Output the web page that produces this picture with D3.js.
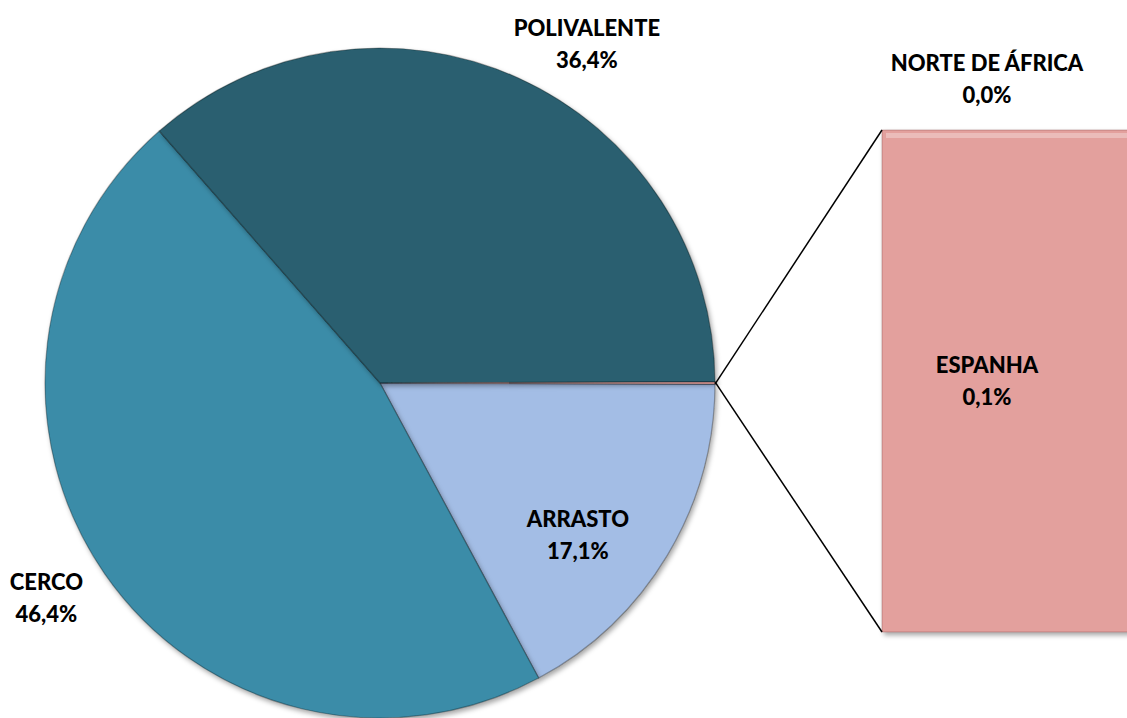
<!DOCTYPE html>
<html>
<head>
<meta charset="utf-8">
<script src="https://cdn.jsdelivr.net/npm/d3@7"></script>
<style>
  body { margin: 0; background: #fff; overflow: hidden; }
  text { font-family: Lato, "Open Sans", sans-serif; font-weight: 900; font-size: 22px; fill: #000; }
</style>
</head>
<body>
<div class="chart"></div>
<script>
// pie slices (clockwise from 3 o'clock), last one is the "other" slice split into the bar
var pieNames = ["ARRASTO", "CERCO", "POLIVALENTE", "OUTROS"];
var pieValues = [17.1, 46.4, 36.4, 0.1];
var pieLabels = ["17,1%", "46,4%", "36,4%", ""];
var pieColors = ["#a3bde5", "#3a8ca8", "#295f6f", "#e3a09d"];

// bar of the "other" slice, bottom to top
var barNames = ["ESPANHA", "NORTE DE ÁFRICA"];
var barValues = [0.1, 0.0];
var barLabels = ["0,1%", "0,0%"];

var svgWidth = 1127, svgHeight = 718;

var svg = d3.select(".chart")
  .append("svg")
    .attr("width", svgWidth)
    .attr("height", svgHeight);

var defs = svg.append("defs");
var shadow = defs.append("filter").attr("id", "shadow")
  .attr("x", "-10%").attr("y", "-10%").attr("width", "130%").attr("height", "130%");
shadow.append("feDropShadow")
  .attr("dx", 2).attr("dy", 3).attr("stdDeviation", 2.5)
  .attr("flood-color", "#000").attr("flood-opacity", 0.35);

var cx = 380, cy = 383, radius = 335;

var total = d3.sum(pieValues);
var otherAngle = pieValues[3] / total * 2 * Math.PI;
var start = Math.PI / 2 + otherAngle / 2;

var pie = d3.pie()
  .sort(null)
  .value(function(d){ return d; })
  .startAngle(start)
  .endAngle(start + 2 * Math.PI);

var arcs = pie(pieValues);

var arc = d3.arc().innerRadius(0).outerRadius(radius);

var g = svg.append("g").attr("transform", "translate(" + cx + "," + cy + ")");

g.selectAll(".slice")
  .data(arcs)
  .enter()
  .append("path")
    .attr("class", "slice")
    .attr("d", arc)
    .attr("fill", function(d, i){ return pieColors[i]; })
    .attr("stroke", "rgba(0,0,0,0.3)")
    .attr("stroke-width", 1.2)
    .attr("filter", "url(#shadow)");

// bar
var barX = 882, barW = 260;
var barTop = 130, barBottom = 632;
var y = d3.scaleLinear()
  .domain([0, d3.sum(barValues)])
  .range([barBottom, barTop]);

var stacked = [];
var acc = 0;
barValues.forEach(function(v, i){
  stacked.push({name: barNames[i], label: barLabels[i], y0: acc, y1: acc + v});
  acc += v;
});

svg.selectAll(".bar")
  .data(stacked)
  .enter()
  .append("rect")
    .attr("class", "bar")
    .attr("x", barX)
    .attr("width", barW)
    .attr("y", function(d){ return y(d.y1); })
    .attr("height", function(d){ return y(d.y0) - y(d.y1); })
    .attr("fill", pieColors[3])
    .attr("stroke", "rgba(120,60,60,0.35)")
    .attr("stroke-width", 1)
    .attr("filter", "url(#shadow)");

// bevel highlight on top of bar
svg.append("rect")
  .attr("x", barX + 4).attr("y", barTop + 3)
  .attr("width", barW).attr("height", 5)
  .attr("fill", "rgba(255,255,255,0.3)");

// connector lines from the other slice to the bar
var other = arcs[3];
var p1 = [cx + radius * Math.sin(other.endAngle), cy - radius * Math.cos(other.endAngle)];
var p2 = [cx + radius * Math.sin(other.startAngle), cy - radius * Math.cos(other.startAngle)];
svg.append("line")
  .attr("x1", p1[0]).attr("y1", p1[1])
  .attr("x2", barX).attr("y2", y(d3.sum(barValues)))
  .attr("stroke", "#000").attr("stroke-width", 1.5);
svg.append("line")
  .attr("x1", p2[0]).attr("y1", p2[1])
  .attr("x2", barX).attr("y2", y(0))
  .attr("stroke", "#000").attr("stroke-width", 1.5);

// pie labels
var labelPlace = {
  "ARRASTO": {r: 250, nudge: 6.7},
  "CERCO": {r: 397, nudge: 1.9},
  "POLIVALENTE": {r: 397, nudge: 7.1}
};

function twoLine(sel, x, yMid, a, b) {
  var t = sel.append("text").attr("text-anchor", "middle");
  t.append("tspan").attr("x", x).attr("y", yMid - 16).attr("dy", "0.35em").text(a);
  t.append("tspan").attr("x", x).attr("y", yMid + 16).attr("dy", "0.35em").text(b);
}

arcs.slice(0, 3).forEach(function(d, i){
  var p = labelPlace[pieNames[i]];
  var mid = (d.startAngle + d.endAngle) / 2 + p.nudge * Math.PI / 180;
  twoLine(svg, cx + p.r * Math.sin(mid), cy - p.r * Math.cos(mid), pieNames[i], pieLabels[i]);
});

// bar labels
var labelX = barX + 105;
stacked.forEach(function(d){
  var mid = (y(d.y0) + y(d.y1)) / 2;
  if (d.y1 - d.y0 === 0) mid = y(d.y1) - 51;
  twoLine(svg, labelX, mid, d.name, d.label);
});
</script>
</body>
</html>
